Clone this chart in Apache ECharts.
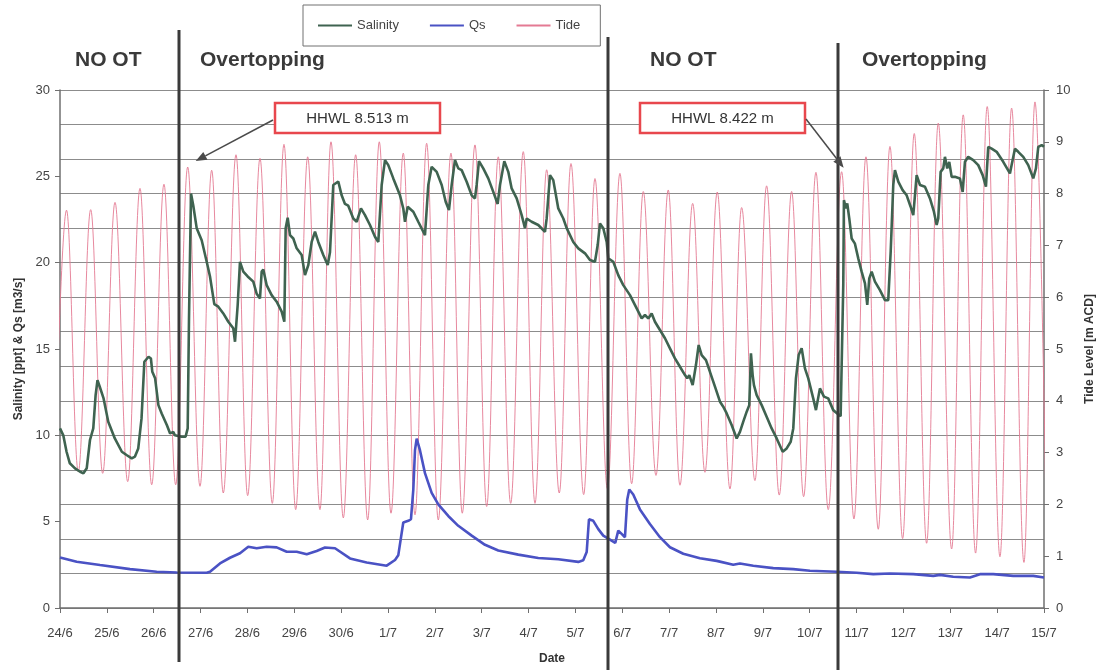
<!DOCTYPE html>
<html>
<head>
<meta charset="utf-8">
<script src="https://cdn.jsdelivr.net/npm/echarts@6/dist/echarts.min.js"></script>
<style>
  html, body { margin: 0; padding: 0; background: #fff; }
  #chart { width: 1104px; height: 670px; }
</style>
</head>
<body>
<div id="chart"></div>
<script>
// Day ticks (x value = days since 24/6 00:00)
const dateLabels = ['24/6','25/6','26/6','27/6','28/6','29/6','30/6','1/7','2/7','3/7','4/7',
  '5/7','6/7','7/7','8/7','9/7','10/7','11/7','12/7','13/7','14/7','15/7'];

// Salinity [ppt]: [day, value]
const salinity = [
  [0.00,10.40],[0.07,10.00],[0.14,9.05],[0.21,8.38],[0.32,8.09],[0.43,7.89],[0.50,7.80],[0.57,8.09],
  [0.64,9.73],[0.71,10.40],[0.76,12.33],[0.80,13.20],[0.85,12.80],[0.93,12.14],[1.03,10.79],[1.17,9.82],
  [1.32,9.05],[1.42,8.86],[1.53,8.67],[1.60,8.77],[1.67,9.24],[1.74,10.98],[1.80,14.26],[1.89,14.55],
  [1.94,14.45],[1.97,13.68],[2.03,13.30],[2.10,11.75],[2.17,11.27],[2.28,10.60],[2.35,10.11],[2.42,10.20],
  [2.45,10.00],[2.60,9.92],[2.68,9.92],[2.725,10.40],[2.753,16.77],[2.796,24.00],[2.845,23.30],[2.917,22.00],
  [3.024,21.30],[3.131,20.05],[3.201,19.20],[3.293,17.60],[3.378,17.45],[3.485,17.06],[3.592,16.58],[3.698,16.20],
  [3.735,15.42],[3.792,17.55],[3.841,20.05],[3.912,19.48],[4.005,19.20],[4.125,18.90],[4.197,18.20],[4.268,17.93],
  [4.304,19.48],[4.339,19.60],[4.410,18.70],[4.517,18.12],[4.624,17.74],[4.731,17.16],[4.787,16.58],[4.816,22.00],
  [4.859,22.60],[4.908,21.60],[4.979,21.40],[5.051,20.83],[5.158,20.44],[5.228,19.28],[5.299,19.86],[5.371,21.20],
  [5.442,21.79],[5.512,21.20],[5.619,20.44],[5.713,19.86],[5.762,20.60],[5.832,24.50],[5.939,24.70],[6.011,23.90],
  [6.082,23.40],[6.152,23.30],[6.259,22.56],[6.332,22.37],[6.423,23.14],[6.509,22.75],[6.615,22.18],[6.722,21.50],
  [6.793,21.20],[6.865,24.50],[6.936,25.94],[7.006,25.65],[7.113,24.88],[7.256,23.90],[7.326,23.14],[7.362,22.37],
  [7.420,23.24],[7.540,22.95],[7.646,22.37],[7.789,21.60],[7.860,24.50],[7.932,25.55],[8.039,25.26],[8.146,24.50],
  [8.231,23.53],[8.301,23.05],[8.359,24.50],[8.429,25.94],[8.500,25.46],[8.572,25.36],[8.679,24.69],[8.786,23.90],
  [8.856,23.72],[8.892,24.50],[8.941,25.88],[9.033,25.46],[9.140,24.88],[9.247,24.10],[9.340,23.40],[9.390,24.50],
  [9.482,25.88],[9.567,25.26],[9.639,24.30],[9.746,23.72],[9.853,22.75],[9.923,22.00],[9.960,22.56],[10.066,22.37],
  [10.207,22.18],[10.350,21.79],[10.386,22.56],[10.457,25.07],[10.527,24.78],[10.634,23.14],[10.741,22.56],[10.813,22.00],
  [10.954,21.20],[11.061,20.83],[11.204,20.54],[11.310,20.15],[11.417,20.05],[11.475,21.02],[11.524,22.27],[11.594,22.00],
  [11.667,21.20],[11.701,20.25],[11.808,20.05],[11.914,19.28],[12.021,18.70],[12.164,18.12],[12.307,17.35],[12.414,16.77],
  [12.484,16.97],[12.555,16.77],[12.627,17.06],[12.697,16.58],[12.804,16.10],[12.911,15.62],[13.017,15.04],[13.124,14.46],
  [13.231,13.97],[13.338,13.49],[13.387,13.30],[13.430,13.49],[13.502,12.91],[13.572,14.07],[13.630,15.23],[13.694,14.65],
  [13.786,14.36],[13.871,13.68],[13.978,12.82],[14.085,11.95],[14.155,11.66],[14.228,11.27],[14.334,10.60],[14.441,9.82],
  [14.511,10.20],[14.582,10.79],[14.655,11.37],[14.710,11.75],[14.746,14.75],[14.782,13.49],[14.810,12.91],[14.868,12.33],
  [14.975,11.75],[15.081,11.08],[15.188,10.40],[15.295,9.82],[15.423,9.05],[15.508,9.24],[15.594,9.63],[15.649,10.40],
  [15.706,13.30],[15.764,14.65],[15.828,15.04],[15.898,13.88],[15.969,13.30],[16.075,12.14],[16.133,11.46],[16.218,12.72],
  [16.304,12.24],[16.395,12.14],[16.502,11.46],[16.587,11.27],[16.660,11.10],[16.716,18.70],[16.730,23.62],[16.773,23.14],
  [16.801,23.43],[16.844,22.56],[16.895,21.40],[16.965,21.10],[17.036,20.25],[17.108,19.48],[17.179,18.80],[17.228,17.55],
  [17.271,19.09],[17.322,19.48],[17.392,18.90],[17.499,18.41],[17.606,17.83],[17.676,17.83],[17.728,20.63],[17.783,24.50],
  [17.819,25.36],[17.890,24.69],[17.983,24.20],[18.069,23.90],[18.154,23.24],[18.210,22.75],[18.246,23.90],[18.282,25.07],
  [18.353,24.50],[18.459,24.40],[18.566,23.72],[18.651,22.95],[18.709,22.18],[18.743,22.56],[18.794,25.26],[18.850,25.46],
  [18.886,26.13],[18.935,25.46],[18.978,25.84],[19.029,24.97],[19.099,24.97],[19.206,24.88],[19.264,24.10],[19.313,25.84],
  [19.383,26.13],[19.490,25.94],[19.597,25.65],[19.691,25.07],[19.761,24.40],[19.810,26.71],[19.883,26.60],[19.989,26.42],
  [20.130,25.84],[20.273,25.17],[20.309,25.65],[20.380,26.60],[20.450,26.42],[20.557,26.13],[20.664,25.65],[20.771,24.88],
  [20.828,25.46],[20.878,26.71],[20.950,26.81],[21.000,26.71]
];

// Qs [m3/s]: [day, value]
const qs = [
  [0.000,2.93],[0.356,2.68],[0.854,2.49],[1.494,2.25],[2.063,2.10],[2.490,2.06],[3.131,2.04],[3.201,2.10],
  [3.414,2.58],[3.628,2.91],[3.841,3.17],[4.018,3.55],[4.197,3.46],[4.410,3.55],[4.624,3.51],[4.838,3.26],
  [5.051,3.26],[5.265,3.11],[5.478,3.30],[5.655,3.50],[5.869,3.46],[6.189,2.87],[6.545,2.64],[6.972,2.45],
  [7.150,2.78],[7.219,3.05],[7.326,4.95],[7.433,5.05],[7.490,5.14],[7.540,6.86],[7.576,9.14],[7.612,9.81],
  [7.682,9.14],[7.789,7.81],[7.932,6.67],[8.073,6.00],[8.286,5.33],[8.500,4.76],[8.786,4.19],[9.070,3.66],
  [9.353,3.33],[9.780,3.09],[10.207,2.90],[10.634,2.82],[11.061,2.67],[11.167,2.76],[11.240,3.24],[11.289,5.14],
  [11.381,5.05],[11.488,4.57],[11.594,4.19],[11.737,3.96],[11.850,3.77],[11.914,4.48],[11.986,4.29],[12.057,4.10],
  [12.106,6.29],[12.149,6.86],[12.234,6.57],[12.377,5.71],[12.590,4.86],[12.804,4.10],[13.017,3.52],[13.302,3.14],
  [13.658,2.88],[14.014,2.73],[14.368,2.50],[14.511,2.58],[14.796,2.45],[15.222,2.31],[15.649,2.25],[16.005,2.16],
  [16.575,2.10],[17.002,2.04],[17.356,1.96],[17.712,2.00],[18.210,1.96],[18.637,1.86],[18.779,1.92],[19.063,1.81],
  [19.420,1.77],[19.633,1.96],[19.917,1.96],[20.344,1.86],[20.771,1.86],[21.000,1.77]
];

// Tide level [m ACD]: successive high and low waters, [day, level]
const tide = [
  [-0.120,2.65],[0.139,7.68],[0.390,2.63],[0.655,7.69],[0.911,2.60],[1.174,7.83],[1.445,2.44],[1.707,8.10],
  [1.957,2.38],[2.219,8.18],[2.469,2.38],[2.725,8.513],[2.988,2.35],[3.237,8.45],[3.485,2.22],[3.756,8.75],
  [4.005,2.17],[4.268,8.68],[4.531,2.02],[4.780,8.95],[5.030,1.90],[5.286,8.71],[5.548,1.90],[5.783,9.00],
  [6.046,1.74],[6.310,8.75],[6.566,1.70],[6.814,9.00],[7.064,1.83],[7.326,8.78],[7.576,1.80],[7.825,8.97],
  [8.073,1.70],[8.344,8.78],[8.585,1.83],[8.856,8.94],[9.106,1.96],[9.353,8.71],[9.618,2.02],[9.887,8.81],
  [10.137,2.02],[10.386,8.46],[10.655,2.22],[10.905,8.58],[11.176,2.19],[11.417,8.29],[11.683,2.30],[11.950,8.39],
  [12.200,2.40],[12.448,8.04],[12.719,2.56],[12.981,8.07],[13.231,2.37],[13.502,7.81],[13.764,2.62],[14.027,8.03],
  [14.298,2.30],[14.547,7.73],[14.831,2.46],[15.080,8.15],[15.350,2.18],[15.614,8.04],[15.870,2.15],[16.133,8.41],
  [16.395,1.90],[16.681,8.422],[16.944,1.72],[17.200,8.71],[17.463,1.52],[17.712,8.91],[17.983,1.34],[18.231,9.16],
  [18.495,1.25],[18.743,9.36],[19.029,1.14],[19.276,9.52],[19.540,1.06],[19.788,9.68],[20.060,0.99],[20.309,9.65],
  [20.572,0.88],[20.807,9.77],[21.063,0.85]
];

// Start of each overtopping / no-overtopping period [day]
const periodStarts = [2.533, 11.700, 16.600];
// Highest high water levels that are called out
const hhwlDays = [2.725, 16.681];
const hhwlLevels = [8.513, 8.422];

// Layout of the annotation layer (pixels)
const dividerSpans = [[30, 662], [37, 670], [43, 670]];
const periodTitles = [
  { text: 'NO OT', x: 75 }, { text: 'Overtopping', x: 200 },
  { text: 'NO OT', x: 650 }, { text: 'Overtopping', x: 862 }
];
const calloutBoxes = [
  { x: 275, y: 103, side: 'left', tipOffset: [8, -6] },
  { x: 640, y: 103, side: 'right', tipOffset: [2, -4] }
];

const FONT = '"Liberation Sans", Arial, Helvetica, sans-serif';
const AXIS_GREY = '#6f6f6f';
const GRID_GREY = '#8c8c8c';
const SAL_COLOR = '#3f6350';
const QS_COLOR = '#4a52c4';
const TIDE_COLOR = '#e47a93';

const chart = echarts.init(document.getElementById('chart'), null, { renderer: 'canvas' });

const hiddenMarker = { opacity: 0 };
const option = {
  animation: false,
  backgroundColor: '#ffffff',
  textStyle: { fontFamily: FONT },
  grid: { left: 60, right: 60, top: 90, bottom: 62, containLabel: false },
  legend: {
    data: [
      { name: 'Salinity', itemStyle: hiddenMarker },
      { name: 'Qs', itemStyle: hiddenMarker },
      { name: 'Tide', itemStyle: hiddenMarker }
    ],
    left: 303, top: 5,
    padding: [14, 20, 14, 14],
    itemGap: 30, itemWidth: 34, itemHeight: 14,
    borderColor: '#707070', borderWidth: 1, borderRadius: 0,
    textStyle: { fontSize: 13, color: '#444', fontFamily: FONT }
  },
  xAxis: {
    type: 'value', min: 0, max: 21, interval: 1,
    name: 'Date', nameLocation: 'middle', nameGap: 45,
    nameTextStyle: { fontSize: 12, fontWeight: 'bold', color: '#333', fontFamily: FONT },
    axisLine: { show: true, onZero: false, lineStyle: { color: AXIS_GREY, width: 1.5 } },
    axisTick: { show: true, length: 5, lineStyle: { color: AXIS_GREY } },
    axisLabel: { margin: 19, fontSize: 13, color: '#444', fontFamily: FONT,
      formatter: v => dateLabels[Math.round(v)] || '' },
    splitLine: { show: false }
  },
  yAxis: [
    {
      type: 'value', position: 'left', min: 0, max: 30, interval: 5,
      name: 'Salinity [ppt] & Qs [m3/s]', nameLocation: 'middle', nameGap: 35, nameRotate: 90,
      nameTextStyle: { fontSize: 12, fontWeight: 'bold', color: '#333', fontFamily: FONT },
      axisLine: { show: true, lineStyle: { color: AXIS_GREY, width: 1.5 } },
      axisTick: { show: true, length: 5, lineStyle: { color: AXIS_GREY } },
      axisLabel: { margin: 10, fontSize: 13, color: '#444', fontFamily: FONT },
      splitLine: { show: false }
    },
    {
      type: 'value', position: 'right', min: 0, max: 10, interval: 1,
      name: 'Tide Level [m ACD]', nameLocation: 'middle', nameGap: 40, nameRotate: 90,
      nameTextStyle: { fontSize: 12, fontWeight: 'bold', color: '#333', fontFamily: FONT },
      axisLine: { show: true, lineStyle: { color: AXIS_GREY, width: 1.5 } },
      axisTick: { show: true, length: 5, lineStyle: { color: AXIS_GREY } },
      axisLabel: { margin: 12, fontSize: 13, color: '#444', fontFamily: FONT },
      splitLine: { show: false }
    },
    {
      // horizontal grid every 2 ppt
      type: 'value', position: 'left', min: 0, max: 30, interval: 2,
      axisLine: { show: false }, axisTick: { show: false }, axisLabel: { show: false },
      splitLine: { show: true, lineStyle: { color: GRID_GREY, width: 1 } }
    }
  ],
  series: [
    {
      name: 'Tide', type: 'line', yAxisIndex: 1, data: tide,
      symbol: 'none', smooth: 0.38, smoothMonotone: 'x',
      lineStyle: { color: TIDE_COLOR, width: 0.9 }, itemStyle: { color: TIDE_COLOR }, z: 2
    },
    {
      name: 'Salinity', type: 'line', yAxisIndex: 0, data: salinity,
      symbol: 'none', lineStyle: { color: SAL_COLOR, width: 2.6 }, itemStyle: { color: SAL_COLOR }, z: 3
    },
    {
      name: 'Qs', type: 'line', yAxisIndex: 0, data: qs,
      symbol: 'none', lineStyle: { color: QS_COLOR, width: 2.6 }, itemStyle: { color: QS_COLOR }, z: 3
    }
  ]
};
chart.setOption(option);

// Annotations positioned through the axes' own scales
const graphics = [];
periodStarts.forEach((d, i) => {
  const x = Math.round(chart.convertToPixel({ xAxisIndex: 0 }, d));
  const [y1, y2] = dividerSpans[i];
  graphics.push({ type: 'line', z: 50, silent: true,
    shape: { x1: x, y1: y1, x2: x, y2: y2 },
    style: { stroke: '#3a3a3a', lineWidth: 3 } });
});
periodTitles.forEach(p => {
  graphics.push({ type: 'text', z: 50, silent: true, x: p.x, y: 60,
    style: { text: p.text, font: 'bold 21px ' + FONT, fill: '#3a3a3a', textVerticalAlign: 'middle' } });
});
calloutBoxes.forEach((b, i) => {
  const w = 165, hgt = 30;
  graphics.push({ type: 'rect', z: 60, silent: true,
    shape: { x: b.x, y: b.y, width: w, height: hgt },
    style: { fill: '#fff', stroke: '#e8474d', lineWidth: 2.5 } });
  graphics.push({ type: 'text', z: 61, silent: true, x: b.x + w / 2, y: b.y + hgt / 2 + 1,
    style: { text: 'HHWL ' + hhwlLevels[i].toFixed(3) + ' m', font: '15px ' + FONT, fill: '#333',
      textAlign: 'center', textVerticalAlign: 'middle' } });
  const peak = chart.convertToPixel({ seriesIndex: 0 }, [hhwlDays[i], hhwlLevels[i]]);
  const start = b.side === 'left' ? [b.x - 2, b.y + 17] : [b.x + w + 1, b.y + 16];
  const tip = [peak[0] + b.tipOffset[0], peak[1] + b.tipOffset[1]];
  const ang = Math.atan2(tip[1] - start[1], tip[0] - start[0]);
  const L = 11, Wd = 4.5;
  const base = [tip[0] - L * Math.cos(ang), tip[1] - L * Math.sin(ang)];
  graphics.push({ type: 'line', z: 60, silent: true,
    shape: { x1: start[0], y1: start[1], x2: base[0], y2: base[1] },
    style: { stroke: '#4a4a4a', lineWidth: 1.5 } });
  graphics.push({ type: 'polygon', z: 60, silent: true,
    shape: { points: [tip,
      [base[0] + Wd * Math.sin(ang), base[1] - Wd * Math.cos(ang)],
      [base[0] - Wd * Math.sin(ang), base[1] + Wd * Math.cos(ang)]] },
    style: { fill: '#4a4a4a' } });
});
chart.setOption({ graphic: graphics });
</script>
</body>
</html>
